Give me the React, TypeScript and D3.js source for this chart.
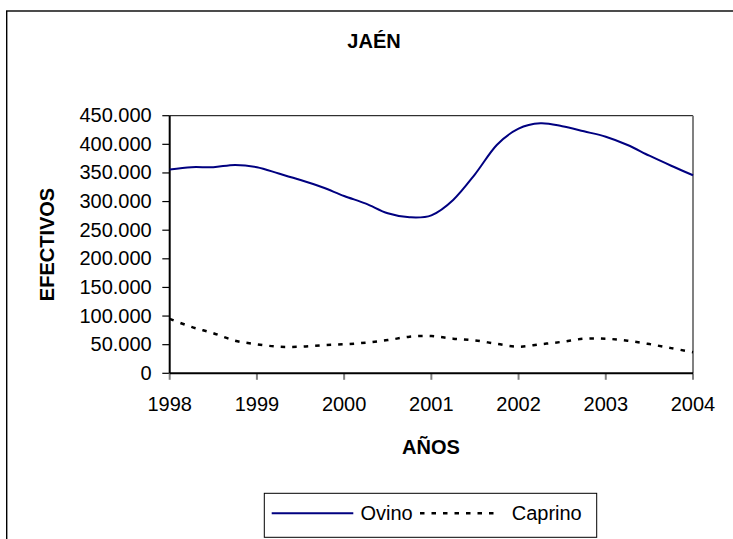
import React from "react";
import * as d3 from "d3";

const periods = [
  1998.0, 1998.25, 1998.5, 1998.75,
  1999.0, 1999.25, 1999.5, 1999.75,
  2000.0, 2000.25, 2000.5, 2000.75,
  2001.0, 2001.25, 2001.5, 2001.75,
  2002.0, 2002.25, 2002.5, 2002.75,
  2003.0, 2003.25, 2003.5, 2003.75,
  2004.0,
];

const ovino = [
  356000, 360000, 360000, 364000,
  360000, 349000, 337600, 324900,
  309700, 296300, 279500, 272500,
  276000, 302800, 347600, 398800,
  427300, 436700, 431700, 422700,
  413300, 398800, 380100, 362600,
  345900,
];

const caprino = [
  95000, 81000, 70000, 57000,
  50700, 46500, 46500, 49000,
  50700, 53500, 58000, 64000,
  65200, 60500, 57500, 51500,
  46500, 50700, 55000, 60400,
  60400, 57000, 51000, 44000,
  36700,
];

const yearTicks = [1998, 1999, 2000, 2001, 2002, 2003, 2004];
const yTicks = [0, 50000, 100000, 150000, 200000, 250000, 300000, 350000, 400000, 450000];
const seriesNames = ["Ovino", "Caprino"];
const title = "JAÉN";
const xTitle = "AÑOS";
const yTitle = "EFECTIVOS";

const FONT = "'Liberation Sans', Arial, sans-serif";
const DASH = "4.5,7";

export default function App() {
  const W = 733;
  const H = 539;
  const left = 169.7;
  const right = 693;
  const top = 115.7;
  const bottom = 373.3;

  const x = d3.scaleLinear().domain([1998, 2004]).range([left, right]);
  const y = d3.scaleLinear().domain([0, 450000]).range([bottom, top]);

  const line = d3
    .line<number>()
    .x((_, i) => x(periods[i]))
    .y((d) => y(d))
    .curve(d3.curveCardinal.tension(0));

  const fmt = (v: number) =>
    v === 0 ? "0" : d3.format(",")(v).replace(/,/g, ".");

  return (
    <svg
      width={W}
      height={H}
      style={{ position: "absolute", left: 0, top: 0, background: "#fff" }}
      fontFamily={FONT}
    >
      <rect x={0} y={0} width={W} height={H} fill="#fff" />
      {/* outer chart border */}
      <rect
        x={6.7}
        y={11}
        width={760}
        height={560}
        fill="none"
        stroke="#000"
        strokeWidth={1.4}
      />
      <text
        x={374}
        y={48}
        textAnchor="middle"
        fontWeight="bold"
        fontSize={20}
      >
        {title}
      </text>

      {/* plot area borders */}
      <line x1={left} x2={right} y1={top} y2={top} stroke="#000" strokeWidth={1} />
      <line x1={right} x2={right} y1={top} y2={bottom} stroke="#808080" strokeWidth={2} />

      {/* y ticks and labels */}
      {yTicks.map((t) => (
        <g key={t}>
          <line x1={162.3} x2={left} y1={y(t)} y2={y(t)} stroke="#000" strokeWidth={1.2} />
          <text x={151.7} y={y(t) + 6.5} textAnchor="end" fontSize={20}>
            {fmt(t)}
          </text>
        </g>
      ))}

      {/* x ticks and labels */}
      {yearTicks.map((t) => (
        <g key={t}>
          <line x1={x(t)} x2={x(t)} y1={bottom} y2={bottom + 6.5} stroke="#808080" strokeWidth={2} />
          <text x={x(t)} y={410.7} textAnchor="middle" fontSize={20}>
            {t}
          </text>
        </g>
      ))}

      {/* axes */}
      <line x1={left} x2={left} y1={top} y2={bottom} stroke="#000" strokeWidth={2} />
      <line x1={left} x2={right} y1={bottom} y2={bottom} stroke="#000" strokeWidth={2} />

      {/* series */}
      <path d={line(ovino) || ""} fill="none" stroke="#000080" strokeWidth={2} />
      <path
        d={line(caprino) || ""}
        fill="none"
        stroke="#000"
        strokeWidth={2.5}
        strokeDasharray={DASH}
      />

      {/* axis titles */}
      <text x={431} y={454} textAnchor="middle" fontWeight="bold" fontSize={20}>
        {xTitle}
      </text>
      <text
        transform={`translate(54,244.5) rotate(-90)`}
        textAnchor="middle"
        fontWeight="bold"
        fontSize={20}
      >
        {yTitle}
      </text>

      {/* legend */}
      <rect x={264.3} y={493.3} width={332.4} height={44} fill="#fff" stroke="#000" strokeWidth={1} />
      <line x1={271.7} x2={353.3} y1={513.3} y2={513.3} stroke="#000080" strokeWidth={2} />
      <text x={360.5} y={520} fontSize={20}>
        {seriesNames[0]}
      </text>
      <line
        x1={420}
        x2={497}
        y1={513.3}
        y2={513.3}
        stroke="#000"
        strokeWidth={2.5}
        strokeDasharray={DASH}
      />
      <text x={511.7} y={520} fontSize={20}>
        {seriesNames[1]}
      </text>
    </svg>
  );
}
